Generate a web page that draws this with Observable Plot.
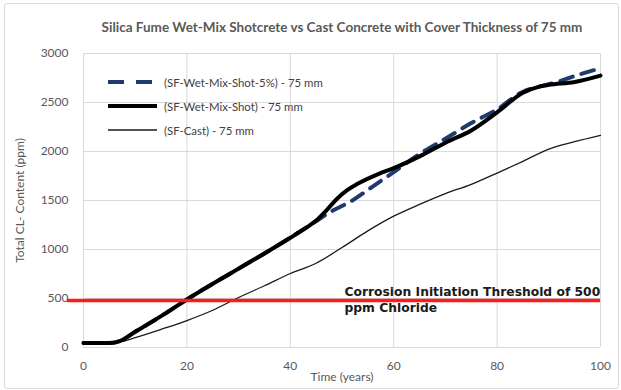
<!DOCTYPE html>
<html>
<head>
<meta charset="utf-8">
<script src="https://cdn.jsdelivr.net/npm/d3@7"></script>
<script src="https://cdn.jsdelivr.net/npm/@observablehq/plot@0.6"></script>
<style>
  html, body { margin: 0; padding: 0; background: #fff; }
  #wrap { position: relative; width: 621px; height: 390px; overflow: hidden; }
  #border { position: absolute; left: 4px; top: 3px; width: 613px; height: 384px;
            border: 1px solid #d9d9d9; border-radius: 3px; pointer-events: none; }
  #legend { position: absolute; left: 108px; top: 70px; font-family: Lato, sans-serif;
            font-size: 11.4px; color: #404040; }
  .row { display: flex; align-items: center; height: 24px; }
  .row svg { width: 50px; height: 10px; margin-right: 6px; }
</style>
</head>
<body>
<div id="wrap"><div id="border"></div></div>
<script>
// Total chloride content over time, 75 mm cover
const title = "Silica Fume Wet-Mix Shotcrete vs Cast Concrete with Cover Thickness of 75 mm";
const xLabel = "Time (years)";
const yLabel = "Total CL- Content (ppm)";
const xTicks = [0, 20, 40, 60, 80, 100];
const yTicks = [0, 500, 1000, 1500, 2000, 2500, 3000];

const seriesNames = ["(SF-Wet-Mix-Shot-5%) - 75 mm", "(SF-Wet-Mix-Shot) - 75 mm", "(SF-Cast) - 75 mm"];

const shot5Years  = [0, 5, 7, 10, 15, 20, 25, 30, 35, 40, 44, 48, 52, 56, 60, 65, 70, 75, 80, 85, 88, 91, 95, 100];
const shot5Values = [45, 45, 65, 160, 320, 490, 650, 805, 960, 1120, 1255, 1390, 1500, 1645, 1790, 1975, 2130, 2290, 2430, 2610, 2660, 2700, 2770, 2850];

const shotYears  = [0, 5, 7, 10, 15, 20, 25, 30, 35, 40, 43, 45, 47, 49, 51, 53, 57, 60, 65, 70, 75, 80, 85, 88, 90, 95, 100];
const shotValues = [45, 45, 65, 160, 320, 490, 650, 805, 960, 1120, 1220, 1295, 1400, 1515, 1605, 1670, 1770, 1830, 1950, 2090, 2215, 2400, 2600, 2660, 2680, 2710, 2775];

const castYears  = [0, 5, 7, 10, 15, 20, 25, 30, 35, 40, 45, 50, 55, 60, 65, 70, 75, 80, 85, 90, 95, 100];
const castValues = [45, 45, 55, 100, 185, 275, 380, 510, 630, 755, 860, 1020, 1190, 1340, 1460, 1570, 1665, 1780, 1900, 2025, 2100, 2165];

const threshold = 480;
const thresholdLabel = "Corrosion Initiation Threshold of 500\nppm Chloride";

const styles = {
  [seriesNames[0]]: {stroke: "#1f3a6e", strokeWidth: 4, strokeDasharray: "13,9"},
  [seriesNames[1]]: {stroke: "#000000", strokeWidth: 4},
  [seriesNames[2]]: {stroke: "#1a1a1a", strokeWidth: 1.3}
};

const toRows = (years, values, name) => years.map((t, i) => ({t, v: values[i], name}));
// drawing order: thin cast line, dashed 5% line, thick shotcrete line on top
const series = [
  toRows(castYears, castValues, seriesNames[2]),
  toRows(shot5Years, shot5Values, seriesNames[0]),
  toRows(shotYears, shotValues, seriesNames[1])
];

const chart = Plot.plot({
  width: 621,
  height: 390,
  marginLeft: 83,
  marginRight: 21,
  marginTop: 53,
  marginBottom: 43,
  style: {fontFamily: "Lato, sans-serif", fontSize: "12px", color: "#595959", background: "transparent"},
  x: {domain: [0, 100], ticks: xTicks, tickFormat: d => String(d), tickSize: 0, tickPadding: 14,
      label: xLabel, labelArrow: "none", labelAnchor: "center", labelOffset: 33},
  y: {domain: [0, 3000], ticks: yTicks, tickFormat: d => String(d), tickSize: 0, tickPadding: 15,
      label: yLabel, labelArrow: "none", labelAnchor: "center", labelOffset: 68},
  marks: [
    Plot.ruleX(xTicks, {stroke: "#d9d9d9", strokeWidth: 1}),
    Plot.ruleY(yTicks, {stroke: "#d9d9d9", strokeWidth: 1}),
    ...series.map(rows => Plot.line(rows, {x: "t", y: "v", curve: "monotone-x", ...styles[rows[0].name]})),
    Plot.ruleY([threshold], {stroke: "#ff1a1a", strokeWidth: 3.5, insetLeft: -16}),
    Plot.text([{label: thresholdLabel, v: threshold}], {
      y: "v", text: "label", frameAnchor: "left", dx: 261, dy: -2, textAnchor: "start", lineAnchor: "middle",
      lineHeight: 1.3, fontFamily: "DejaVu Sans, sans-serif", fontWeight: "bold", fontSize: 12.3, fill: "#1a1a1a"
    }),
    Plot.text([title], {frameAnchor: "top", dy: -26, lineAnchor: "middle", fontWeight: "bold", fontSize: 13.5, fill: "#595959"})
  ]
});

const wrap = document.getElementById("wrap");
wrap.insertBefore(chart, wrap.firstChild);

// legend drawn inside the plot area, top left
const legend = document.createElement("div");
legend.id = "legend";
for (const name of seriesNames) {
  const s = styles[name];
  const row = document.createElement("div");
  row.className = "row";
  row.innerHTML = `<svg viewBox="0 0 50 10"><line x1="0" x2="49" y1="5" y2="5" stroke="${s.stroke}" stroke-width="${s.strokeWidth}" ${s.strokeDasharray ? `stroke-dasharray="16,12"` : ""}/></svg><span>${name}</span>`;
  legend.appendChild(row);
}
wrap.appendChild(legend);
</script>
</body>
</html>
